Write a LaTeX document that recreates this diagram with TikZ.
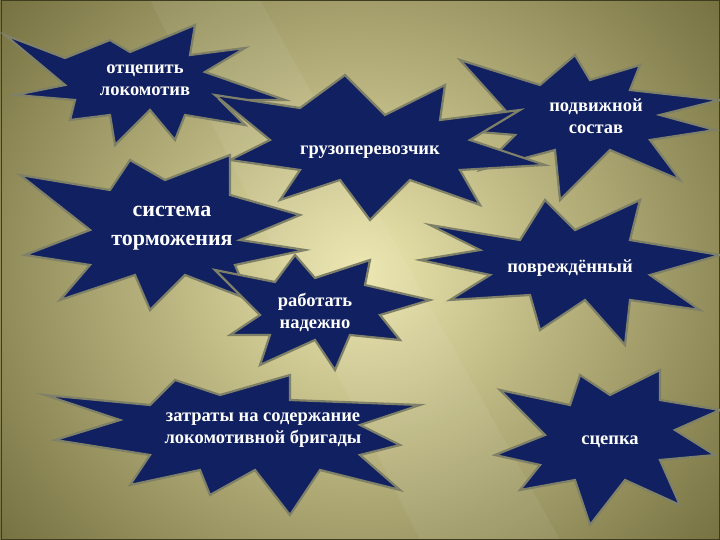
\documentclass[tikz,border=0pt]{standalone}
\usepackage{fontspec}
\setmainfont{Liberation Serif}
\definecolor{navy}{HTML}{102060}
\definecolor{edge}{HTML}{7F8068}
\definecolor{olivedark}{HTML}{6A6636}
\definecolor{olivelight}{HTML}{ECE6AE}
\tikzset{burst/.style={fill=navy,draw=edge,line width=2.2pt,line join=miter},
lbl/.style={text=white,font=\bfseries\fontsize{18.5}{22}\selectfont,align=center}}
\begin{document}
\begin{tikzpicture}[x=1pt,y=-1pt]
\useasboundingbox (0,0) rectangle (720,540);
\shade[inner color=olivelight,outer color=olivedark,shading=radial] (-150,-200) rectangle (870,740);
\fill[white,opacity=0.06] (150,0) -- (260,0) -- (560,540) -- (420,540) -- cycle;
\draw[olivedark!60!black,line width=1pt] (1,1) rectangle (719,539);
% star 1
\draw[burst] (5,35)--(65,58)--(110,40)--(130,52)--(195,25)--(190,55)--(245,48)--(205,72)--(285,100)--(220,100)--(245,125)--(185,115)--(175,140)--(150,110)--(115,145)--(110,115)--(70,120)--(75,100)--(15,95)--(65,85)--cycle;
% star 3
\draw[burst] (460,60)--(540,85)--(575,55)--(590,80)--(640,65)--(630,90)--(720,100)--(660,115)--(715,130)--(650,140)--(680,180)--(610,150)--(560,200)--(555,150)--(480,170)--(515,135)--(455,130)--(505,110)--cycle;
% star 2
\draw[burst] (215,95)--(300,108)--(345,75)--(385,115)--(445,85)--(440,120)--(520,110)--(470,140)--(545,165)--(460,170)--(480,205)--(410,180)--(370,220)--(340,180)--(280,200)--(300,170)--(230,160)--(270,140)--cycle;
% star 4
\draw[burst] (20,175)--(110,190)--(130,160)--(165,180)--(230,155)--(230,195)--(300,215)--(240,240)--(305,250)--(235,265)--(250,300)--(185,275)--(150,310)--(135,275)--(60,300)--(90,265)--(25,255)--(90,230)--cycle;
% star 5
\draw[burst] (430,225)--(520,240)--(545,200)--(575,230)--(640,200)--(630,240)--(720,255)--(650,275)--(700,310)--(630,300)--(625,345)--(585,300)--(540,330)--(530,295)--(450,300)--(490,275)--(420,260)--(480,250)--cycle;
% star 6
\draw[burst] (215,270)--(275,282)--(295,255)--(315,278)--(370,260)--(365,285)--(430,300)--(380,315)--(400,340)--(350,335)--(335,370)--(315,340)--(260,365)--(270,335)--(230,335)--(260,315)--cycle;
% star 7
\draw[burst] (45,395)--(150,405)--(175,380)--(220,395)--(290,375)--(290,400)--(420,405)--(360,425)--(400,445)--(360,455)--(400,490)--(320,470)--(290,515)--(255,470)--(210,495)--(200,470)--(130,485)--(150,455)--(55,440)--(120,420)--cycle;
% star 8
\draw[burst] (500,390)--(570,405)--(580,375)--(610,395)--(660,370)--(660,400)--(720,410)--(675,430)--(715,455)--(660,460)--(680,505)--(625,480)--(590,525)--(575,480)--(520,490)--(540,465)--(495,455)--(545,435)--cycle;
\node[lbl] (t1) at (145,80) {отцепить\\локомотив};
\node[lbl] (t2) at (370,152) {грузоперевозчик};
\node[lbl] (t3) at (596,116) {подвижной\\состав};
\node[lbl,font=\bfseries\fontsize{22}{29}\selectfont] (t4) at (172,228) {система\\торможения};
\node[lbl] (t5) at (570,268) {повреждённый};
\node[lbl] (t6) at (315,312) {работать\\надежно};
\node[lbl] (t7) at (263,430) {затраты на содержание\\локомотивной бригады};
\node[lbl] (t8) at (610,442) {сцепка};
\end{tikzpicture}
\end{document}
